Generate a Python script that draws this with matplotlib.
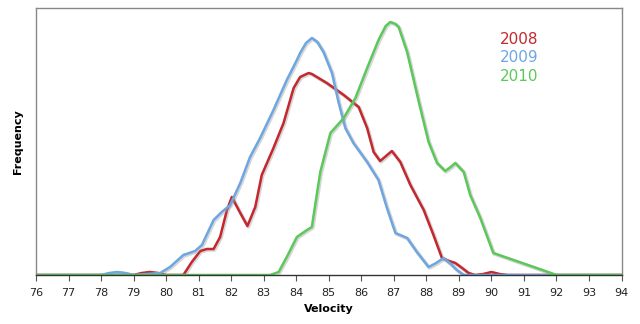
import matplotlib
matplotlib.use("Agg")
import matplotlib.pyplot as plt
import matplotlib.patheffects as pe

# ---- data ----
years = ["2008", "2009", "2010"]

vel_2008 = [76, 79.0, 79.25, 79.5, 79.75, 80.0, 80.5, 80.53, 80.79, 81.05, 81.25, 81.46, 81.66,
            81.87, 82.02, 82.28, 82.5, 82.74, 82.94, 83.3, 83.61, 83.92, 84.12, 84.38, 84.48,
            84.94, 85.46, 85.92, 86.18, 86.38, 86.58, 86.94, 87.2, 87.51, 87.92, 88.22,
            88.48, 88.7, 88.89, 89.1, 89.3, 89.5, 89.75, 90.0, 90.25, 90.5, 94]
freq_2008 = [0, 0, 2, 3, 2, 0, 0, 0, 13, 24, 26, 26, 38,
             65, 78, 62, 49, 68, 100, 127, 152, 187, 198, 202, 201,
             192, 180, 168, 147, 123, 114, 124, 113, 90, 65, 40,
             17, 14, 12, 7, 2, 0, 1, 3, 1, 0, 0]

vel_2009 = [76, 78.0, 78.25, 78.5, 78.75, 79.0, 79.82, 80.12, 80.53, 80.89, 81.1, 81.46, 81.71,
            81.97, 82.28, 82.58, 82.89, 83.3, 83.71, 84.02, 84.12, 84.3, 84.48, 84.65, 84.84,
            85.1, 85.3, 85.51, 85.76, 86.18, 86.53, 86.79, 87.05, 87.41, 87.71, 88.07,
            88.3, 88.53, 88.75, 88.94, 89.15, 94]
freq_2009 = [0, 0, 2, 3, 2, 0, 2, 8, 20, 24, 30, 55, 63,
             70, 92, 118, 137, 165, 195, 215, 222, 232, 237, 233, 223,
             202, 173, 147, 132, 113, 95, 67, 42, 37, 23, 8,
             12, 17, 11, 5, 0, 0]

vel_2010 = [76, 83.2, 83.46, 83.71, 84.02, 84.33, 84.48, 84.74, 85.05, 85.46, 85.82, 86.18,
            86.53, 86.75, 86.89, 87.05, 87.15, 87.41, 87.77, 88.07, 88.33, 88.58, 88.75,
            88.89, 89.15, 89.35, 89.66, 90.06, 90.5, 91.3, 92.0, 94]
freq_2010 = [0, 0, 3, 18, 38, 45, 48, 103, 142, 157, 177, 207,
             235, 249, 253, 251, 248, 223, 173, 133, 112, 104, 108,
             112, 103, 80, 57, 22, 17, 8, 0, 0]

x_ticks = list(range(76, 95))
colors = ["#c4272d", "#6ea6e2", "#5cc85a"]

# ---- figure ----
W, H = 640, 324
fig = plt.figure(figsize=(W / 100, H / 100), dpi=100)
ax = fig.add_axes([36 / W, (H - 275) / H, (621.5 - 36) / W, (275 - 8) / H])

shadow = [pe.SimpleLineShadow(offset=(0.7, -0.7), shadow_color="#999999", alpha=0.4, linewidth=2.6),
          pe.Normal()]
series = [(vel_2008, freq_2008), (vel_2009, freq_2009), (vel_2010, freq_2010)]
for (xv, yv), c in zip(series, colors):
    ax.plot(xv, yv, color=c, lw=1.8, solid_joinstyle="round", solid_capstyle="round",
            path_effects=shadow)

ax.set_xlim(76, 94)
ax.set_ylim(0, 267)
ax.set_xticks(x_ticks)
ax.set_xticklabels([str(t) for t in x_ticks], fontsize=8, color="#222222")
ax.tick_params(axis="x", direction="out", length=4, width=0.8, color="#555555", pad=5)
ax.set_yticks([])
for s in ax.spines.values():
    s.set_color("#888888")
    s.set_linewidth(1.0)
ax.spines["bottom"].set_color("#333333")

ax.set_xlabel("Velocity", fontsize=8, fontweight="bold", labelpad=5)
ax.set_ylabel("Frequency", fontsize=8, fontweight="bold", labelpad=9)

for i, (yr, c) in enumerate(zip(years, colors)):
    fig.text(519 / W, 1 - (39 + 19 * i) / H, yr, color=c, fontsize=11,
             ha="center", va="center")

fig.savefig("out.png", dpi=100)
